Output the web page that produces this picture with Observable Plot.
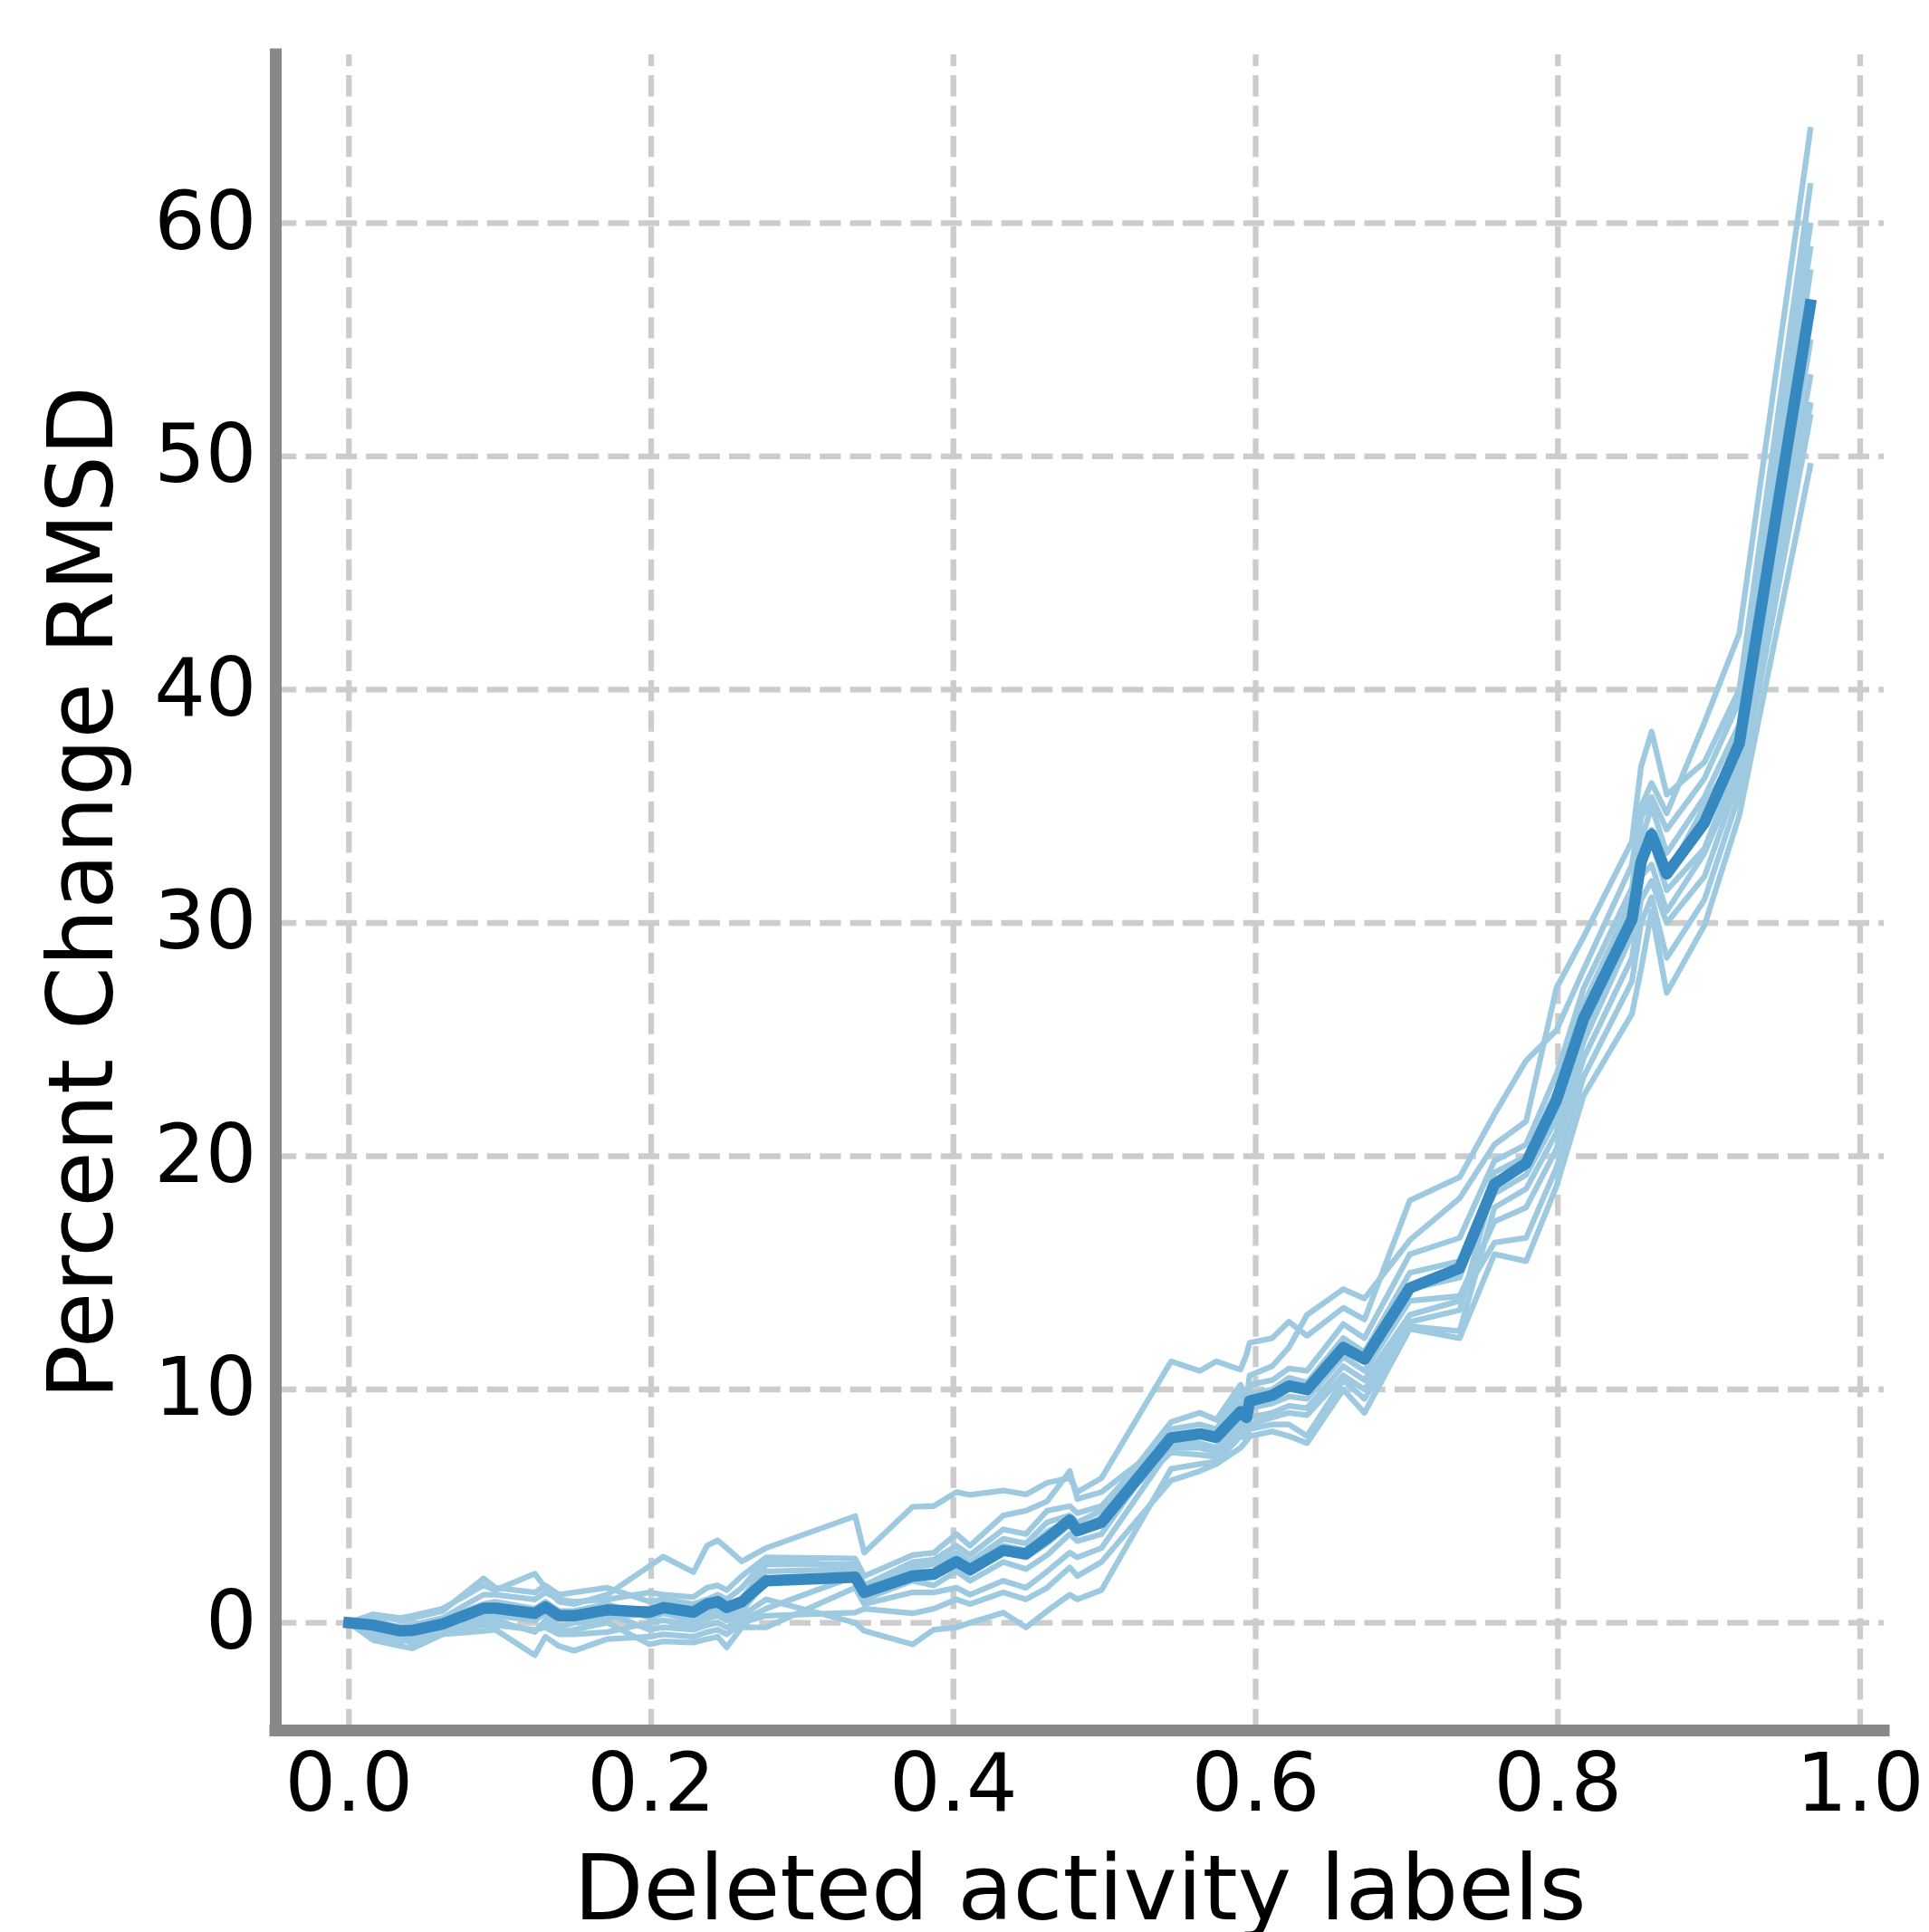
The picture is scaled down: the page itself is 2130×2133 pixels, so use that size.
<!DOCTYPE html>
<html>
<head>
<meta charset="utf-8">
<script src="https://cdn.jsdelivr.net/npm/d3@7"></script>
<script src="https://cdn.jsdelivr.net/npm/@observablehq/plot@0.6"></script>
<style>
  html, body { margin: 0; padding: 0; background: white; overflow: hidden; }
  #chart svg { display: block; }
</style>
</head>
<body>
<div id="chart"></div>
<script>
// Fraction of deleted activity labels (shared x grid)
const xs = [0, 0.016, 0.034, 0.042, 0.062, 0.089, 0.097, 0.123, 0.130, 0.139, 0.149, 0.171,
  0.199, 0.208, 0.228, 0.237, 0.244, 0.250, 0.260, 0.276,
  0.335, 0.341, 0.373, 0.387, 0.402, 0.411, 0.433, 0.448, 0.462, 0.477, 0.482, 0.498,
  0.544, 0.563, 0.574, 0.590, 0.594, 0.596, 0.611, 0.622, 0.634, 0.658, 0.672, 0.702, 0.735,
  0.758, 0.779, 0.799, 0.817, 0.849, 0.855, 0.862, 0.872, 0.897, 0.920, 0.967];

// Mean curve (dark)
const meanRun = [0, -0.1, -0.35, -0.33, -0.05, 0.62, 0.62, 0.4, 0.68, 0.3, 0.3, 0.55,
  0.45, 0.65, 0.45, 0.8, 0.9, 0.65, 0.9, 1.8,
  1.95, 1.3, 2.0, 2.08, 2.62, 2.28, 3.1, 2.95, 3.62, 4.4, 3.95, 4.3,
  7.93, 8.1, 7.95, 9.05, 8.8, 9.5, 9.75, 10.15, 10.0, 11.8, 11.3, 14.35, 15.2,
  18.8, 19.7, 22.4, 25.9, 30.15, 32.6, 33.8, 32.1, 34.3, 37.7, 56.5];

// Individual runs (light)
const run1 = [0, 0.36, 0.2, 0.3, 0.6, 1.6, 1.4, 2.1, 1.5, 0.9, 0.8, 1.2,
  2.43, 2.83, 2.17, 3.3, 3.53, 3.2, 2.63, 3.2,
  4.57, 3.0, 4.97, 5.0, 5.6, 5.48, 5.67, 5.5, 6.0, 6.2, 5.6, 6.2,
  11.2, 10.8, 11.2, 10.85, 11.5, 12.0, 12.2, 12.9, 12.3, 13.5, 13.0, 18.1, 19.1,
  21.8, 24.1, 25.4, 28.0, 32.5, 35.0, 36.0, 34.7, 38.6, 42.4, 64.0];
const run2 = [0, 0.3, 0.1, 0.2, 0.5, 1.9, 1.5, 1.3, 1.6, 1.2, 1.3, 1.5,
  0.9, 1.0, 0.8, 1.0, 1.2, 1.0, 1.5, 2.7,
  2.4, 1.5, 2.4, 2.5, 3.0, 2.6, 3.6, 3.4, 4.3, 4.6, 4.3, 4.8,
  8.6, 9.0, 8.7, 10.2, 9.6, 10.6, 11.0, 11.8, 13.2, 14.3, 13.9, 16.4, 18.2,
  20.5, 21.5, 27.2, 29.4, 33.5, 36.7, 38.2, 35.5, 36.9, 40.0, 61.6];
const run3 = [0, 0.1, -0.2, -0.1, 0.2, 1.2, 1.2, 1.0, 1.3, 1.0, 0.9, 1.0,
  1.3, 1.2, 1.1, 1.5, 1.6, 1.4, 2.0, 2.8,
  2.75, 2.0, 2.9, 3.0, 3.8, 3.3, 4.6, 4.8, 5.2, 6.5, 5.3, 5.6,
  7.9, 8.0, 7.8, 9.1, 8.7, 9.5, 9.7, 10.1, 10.0, 11.8, 11.2, 14.3, 14.8,
  19.3, 20.0, 22.8, 26.5, 31.0, 33.5, 35.0, 33.0, 35.4, 38.5, 58.9];
const run4 = [0, -0.15, -0.4, -0.35, -0.1, 0.5, 0.6, 0.3, 0.7, 0.4, 0.3, 0.6,
  0.6, 0.8, 0.6, 0.8, 0.9, 0.7, 1.0, 2.5,
  2.5, 1.6, 2.6, 2.7, 3.3, 2.9, 4.0, 3.8, 4.8, 5.0, 4.7, 5.0,
  8.3, 8.5, 8.3, 9.8, 9.3, 10.2, 10.4, 10.9, 10.8, 12.8, 12.2, 15.8, 16.5,
  19.8, 20.5, 23.5, 27.2, 31.5, 34.5, 35.4, 34.0, 36.2, 39.5, 59.9];
const run5 = [0, -0.05, -0.3, -0.25, 0.1, 0.8, 0.9, 0.6, 0.9, 0.5, 0.5, 0.8,
  0.2, 0.4, 0.1, 0.4, 0.5, 0.3, 0.5, 1.8,
  1.9, 1.0, 1.8, 1.6, 2.2, 1.8, 2.6, 2.3, 2.9, 3.8, 3.5, 3.8,
  8.0, 8.2, 8.0, 9.4, 9.0, 9.8, 10.0, 10.5, 10.3, 12.2, 11.6, 15.0, 15.5,
  18.4, 19.2, 21.6, 25.4, 30.0, 32.5, 33.5, 31.4, 33.2, 37.0, 54.9];
const run6 = [0, -0.3, -0.55, -0.6, -0.15, 0.2, 0.3, 0.1, 0.4, -0.2, 0.0, 0.2,
  0.4, 0.6, 0.4, 0.6, 0.6, 0.4, 0.8, 2.2,
  2.3, 1.4, 2.2, 2.2, 2.8, 2.4, 3.3, 3.1, 3.9, 4.4, 4.0, 4.5,
  7.3, 7.2, 7.1, 8.3, 8.0, 8.5, 8.8, 9.0, 8.9, 10.6, 10.0, 12.9, 13.4,
  18.9, 19.6, 22.2, 26.0, 30.5, 33.0, 34.0, 32.0, 35.0, 37.5, 57.9];
const run7 = [0, -0.2, -0.5, -0.45, -0.2, 0.4, 0.4, 0.2, 0.5, 0.3, 0.2, 0.4,
  -0.3, -0.2, -0.3, -0.1, 0.0, -0.2, 0.1, 0.6,
  2.0, 1.3, 2.0, 2.1, 2.5, 2.1, 3.0, 2.8, 3.4, 4.2, 3.8, 4.2,
  7.7, 7.7, 7.5, 8.8, 8.5, 9.2, 9.4, 9.7, 9.6, 11.4, 10.8, 13.8, 14.0,
  17.2, 17.8, 20.3, 24.2, 28.5, 31.0, 31.8, 30.0, 32.0, 36.2, 52.2];
const run8 = [0, -0.5, -0.8, -0.7, -0.3, -0.1, -0.1, -0.3, -0.2, -0.5, -0.5, -0.4,
  0.0, 0.1, -0.1, 0.2, 0.3, 0.1, 0.3, 1.0,
  0.0, -0.35, -0.93, -0.3, -0.2, 0.0, 0.43, -0.2, 0.5, 1.2, 1.0, 1.4,
  6.6, 6.8, 6.9, 8.0, 7.9, 8.3, 8.5, 8.5, 8.0, 10.4, 9.6, 12.7, 12.5,
  17.8, 18.6, 21.0, 24.9, 29.5, 32.0, 32.5, 30.5, 33.0, 36.5, 53.4];
const run9 = [0, -0.35, -0.6, -0.9, -0.4, 0.1, 0.1, -0.4, 0.1, -0.4, -0.3, 0.0,
  -0.93, -0.8, -0.85, -0.7, -0.6, -1.05, -0.2, -0.2,
  1.5, 0.8, 1.3, 1.3, 1.5, 1.2, 1.8, 1.5, 2.2, 3.0, 2.8, 3.2,
  7.5, 7.5, 7.3, 8.5, 8.2, 8.8, 9.0, 9.3, 9.2, 11.0, 10.4, 13.2, 13.8,
  16.3, 16.5, 19.5, 23.4, 27.5, 30.0, 31.1, 28.5, 31.0, 35.5, 51.7];
const run10 = [0, -0.74, -1.0, -1.1, -0.5, -0.35, -0.3, -1.39, -0.6, -1.0, -1.2, -0.7,
  -0.6, -0.5, -0.6, -0.4, -0.3, -0.5, 0.0, 0.3,
  0.43, 0.6, 0.4, 0.6, 1.0, 0.8, 1.3, 1.0, 1.5, 2.37, 2.0, 2.6,
  6.1, 6.5, 6.8, 7.5, 7.8, 8.0, 8.2, 8.0, 7.7, 10.0, 9.0, 12.6, 12.2,
  15.8, 15.5, 18.7, 22.6, 26.1, 28.0, 30.5, 27.0, 29.9, 34.6, 49.6];

const xTicks = [0, 0.2, 0.4, 0.6, 0.8, 1.0];
const xTickLabels = ["0.0", "0.2", "0.4", "0.6", "0.8", "1.0"];
const yTicks = [0, 10, 20, 30, 40, 50, 60];
const yTickLabels = ["0", "10", "20", "30", "40", "50", "60"];

const xLabel = "Deleted activity labels";
const yLabel = "Percent Change RMSD";

const runs = [run1, run2, run3, run4, run5, run6, run7, run8, run9, run10];
const lightData = runs.flatMap((r, k) => r.map((v, i) => ({x: xs[i], y: v, run: k})));
const meanData = meanRun.map((v, i) => ({x: xs[i], y: v}));

const xDomain = [-0.0484, 1.0159];
const yDomain = [-4.62, 67.22];

const gridStyle = {stroke: "#cccccc", strokeWidth: 6.3, strokeDasharray: "23.3,10.1", strokeOpacity: 1};
const spineStyle = {stroke: "#888888", strokeWidth: 13, strokeLinecap: "square", strokeOpacity: 1};

const chart = Plot.plot({
  width: 2130,
  height: 2133,
  marginLeft: 304,
  marginRight: 50,
  marginTop: 60,
  marginBottom: 223,
  style: {background: "white", fontFamily: "DejaVu Sans", color: "black"},
  x: {domain: xDomain, axis: null},
  y: {domain: yDomain, axis: null},
  marks: [
    // grid
    Plot.ruleX(xTicks, {x: d => d, y1: yDomain[0], y2: yDomain[1], ...gridStyle}),
    Plot.ruleY(yTicks, {y: d => d, x1: xDomain[0], x2: xDomain[1], ...gridStyle}),
    // individual runs
    Plot.line(lightData, {x: "x", y: "y", z: "run", stroke: "#9ecae1", strokeWidth: 6.3,
      strokeLinecap: "square", strokeLinejoin: "round"}),
    // mean
    Plot.line(meanData, {x: "x", y: "y", stroke: "#3589c0", strokeWidth: 12.5,
      strokeLinecap: "square", strokeLinejoin: "round"}),
    // spines
    Plot.ruleX([xDomain[0]], {x: d => d, y1: yDomain[0], y2: yDomain[1], ...spineStyle}),
    Plot.ruleY([yDomain[0]], {y: d => d, x1: xDomain[0], x2: xDomain[1], ...spineStyle}),
    // tick labels
    Plot.axisX(xTicks, {anchor: "bottom", tickSize: 0, tickPadding: 24.8, fontSize: 89,
      tickFormat: d => xTickLabels[xTicks.indexOf(d)], label: null, fill: "black"}),
    Plot.axisY(yTicks, {anchor: "left", tickSize: 0, tickPadding: 21, fontSize: 89,
      tickFormat: d => yTickLabels[yTicks.indexOf(d)], label: null, fill: "black"}),
    // axis labels
    Plot.text([xLabel], {text: d => d, frameAnchor: "bottom", textAnchor: "middle",
      lineAnchor: "top", dy: 137, fontSize: 100, fill: "black"}),
    Plot.text([yLabel], {text: d => d, frameAnchor: "left", textAnchor: "middle",
      lineAnchor: "top", rotate: -90, dx: -252, fontSize: 100, fill: "black"})
  ]
});

document.getElementById("chart").appendChild(chart);
</script>
</body>
</html>
